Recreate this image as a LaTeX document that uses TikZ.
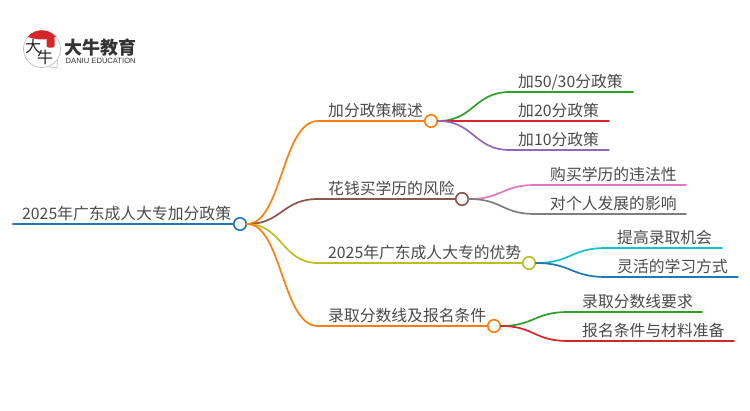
\documentclass[tikz,border=0pt]{standalone}
\usepackage{fontspec}
\setmainfont{Noto Sans CJK SC}
\newfontfamily\latinsans{Liberation Sans}
\usetikzlibrary{positioning, calc}
\definecolor{cblue}{HTML}{1F77B4}
\definecolor{corange}{HTML}{FF7F0E}
\definecolor{cbrown}{HTML}{8C564B}
\definecolor{colive}{HTML}{BCBD22}
\definecolor{cgreen}{HTML}{2CA02C}
\definecolor{cred}{HTML}{D62728}
\definecolor{cpurple}{HTML}{9467BD}
\definecolor{cpink}{HTML}{E377C2}
\definecolor{cgray}{HTML}{7F7F7F}
\definecolor{ccyan}{HTML}{17BECF}
\definecolor{ctext}{HTML}{4A4A4A}
\tikzset{
  label/.style={anchor=base west, inner sep=0pt, text=ctext, font=\fontsize{15.8}{16}\selectfont},
  dot/.style={circle, draw=#1, fill=white, line width=1.6pt, minimum size=12.5pt, inner sep=0pt},
  branch/.style={line width=1.7pt, line cap=round, draw=#1},
  logotext/.style={anchor=base west, inner sep=0pt, text=black!80},
  logochar/.style={anchor=center, inner sep=0pt, text=black!85, font=\fontsize{16}{16}\selectfont}
}
\begin{document}
\begin{tikzpicture}[x=1pt, y=-1pt]
    \useasboundingbox (0,0) rectangle (750,410);

    % Logo
    \node[circle, draw=black!25, fill=white, line width=0.7pt, minimum size=37pt, inner sep=0pt] (bubble) at (42,49) {};
    \coordinate (tailtip) at (57,68);
    \draw[black!25, line width=0.7pt] (bubble.-70) -- (tailtip) -- (bubble.-35);
    \fill[cred] (bubble.140) arc[start angle=140, end angle=40, radius=18.5pt] to[bend left=18] cycle;
    \node[fill=cred, inner sep=0pt, minimum width=8pt, minimum height=11pt, rounded corners=2pt] (seal) at (50.5,42) {};
    \node[logochar] (logoda) at (33,46) {大};
    \node[logochar] (logoniu) at (45,57) {牛};
    \node[logotext, font=\fontsize{18}{18}\selectfont\bfseries] (brand) at (64,54) {大牛教育};
    \node[logotext, font=\fontsize{7.6}{8}\selectfont\latinsans] (brandsub) at (65.5,63) {DANIU EDUCATION};

    % Root
    \node[label] (root) at (22,219) {2025年广东成人大专加分政策};
    \node[dot=cblue] (c0) at (240,224) {};
    \coordinate (c0s) at (13,224);
    \draw[branch=cblue, line width=2.4pt] (c0s) -- (c0);

    % Main topics
    \node[label] (t1) at (328,116) {加分政策概述};
    \node[label] (t2) at (328,194) {花钱买学历的风险};
    \node[label] (t3) at (328,258) {2025年广东成人大专的优势};
    \node[label] (t4) at (328,321) {录取分数线及报名条件};
    \node[dot=corange] (c1) at (431,121) {};
    \node[dot=cbrown] (c2) at (462,199) {};
    \node[dot=colive] (c3) at (529,263) {};
    \node[dot=corange] (c4) at (494,326) {};
    \draw[branch=corange] (c0.east) .. controls (282,224) and (282,121) .. (318,121) -- (c1);
    \draw[branch=cbrown] (c0.east) .. controls (282,224) and (282,199) .. (318,199) -- (c2);
    \draw[branch=colive] (c0.east) .. controls (282,224) and (282,263) .. (318,263) -- (c3);
    \draw[branch=corange] (c0.east) .. controls (282,224) and (282,326) .. (318,326) -- (c4);

    % Leaves
    \node[label] (k1) at (518,87) {加50/30分政策};
    \node[label] (k2) at (518,116) {加20分政策};
    \node[label] (k3) at (518,145) {加10分政策};
    \node[label] (k4) at (550,180) {购买学历的违法性};
    \node[label] (k5) at (550,209) {对个人发展的影响};
    \node[label] (k6) at (617,243) {提高录取机会};
    \node[label] (k7) at (617,272) {灵活的学习方式};
    \node[label] (k8) at (582,307) {录取分数线要求};
    \node[label] (k9) at (582,336) {报名条件与材料准备};
    \coordinate (e1) at (633,92);
    \coordinate (e2) at (609,121);
    \coordinate (e3) at (609,150);
    \coordinate (e4) at (686,185);
    \coordinate (e5) at (686,214);
    \coordinate (e6) at (722,248);
    \coordinate (e7) at (738,277);
    \coordinate (e8) at (702,312);
    \coordinate (e9) at (734,341);
    \draw[branch=cgreen] (c1.east) .. controls (474,121) and (474,92) .. (510,92) -- (e1);
    \draw[branch=cred] (c1.east) -- (e2);
    \draw[branch=cpurple] (c1.east) .. controls (474,121) and (474,150) .. (510,150) -- (e3);
    \draw[branch=cpink] (c2.east) .. controls (502,199) and (502,185) .. (535,185) -- (e4);
    \draw[branch=cgray] (c2.east) .. controls (502,199) and (502,214) .. (535,214) -- (e5);
    \draw[branch=ccyan] (c3.east) .. controls (571,263) and (571,248) .. (606,248) -- (e6);
    \draw[branch=cblue] (c3.east) .. controls (571,263) and (571,277) .. (606,277) -- (e7);
    \draw[branch=cgreen] (c4.east) .. controls (534,326) and (534,312) .. (568,312) -- (e8);
    \draw[branch=cred] (c4.east) .. controls (534,326) and (534,341) .. (568,341) -- (e9);
\end{tikzpicture}
\end{document}
